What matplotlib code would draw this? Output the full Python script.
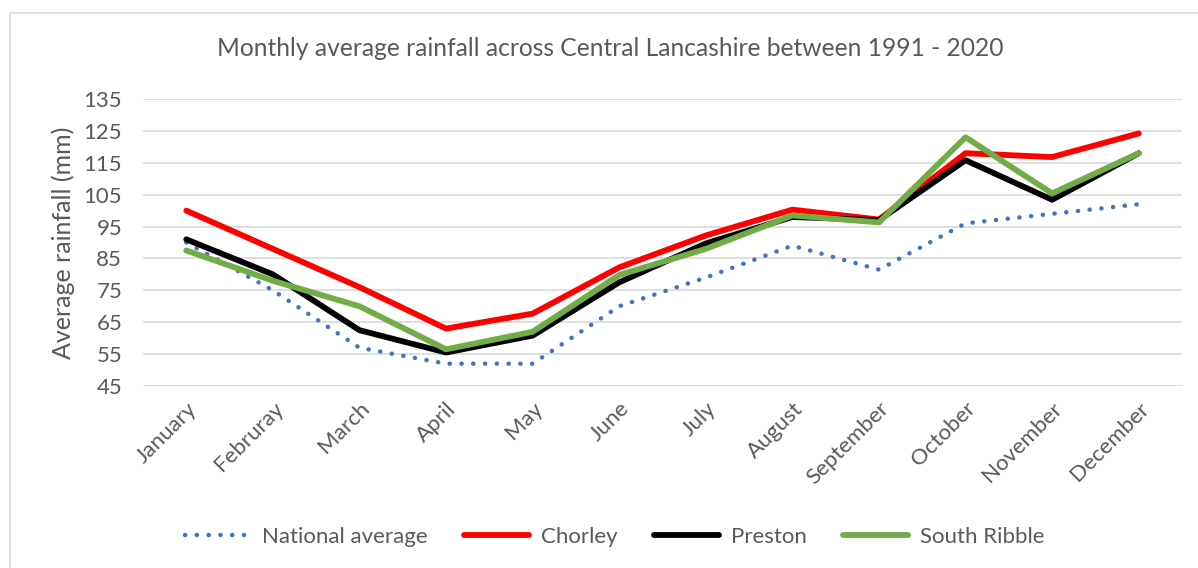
import matplotlib
matplotlib.use("Agg")
import matplotlib.pyplot as plt
from matplotlib.patches import Rectangle

months = ["January", "Februray", "March", "April", "May", "June", "July",
          "August", "September", "October", "November", "December"]
national = [90, 75, 57, 52, 52, 70, 79, 89, 81.5, 96, 99, 102]
chorley = [100, 88, 76, 63, 67.7, 82.2, 92.2, 100.3, 97.2, 118, 116.8, 124.2]
preston = [91, 80, 62.5, 55.5, 60.8, 77.5, 89.7, 98, 97, 115.8, 103.4, 118]
south_ribble = [87.5, 78, 70, 56.5, 62, 79.8, 88, 98.5, 96.3, 123, 105.4, 118]

series_names = ["National average", "Chorley", "Preston", "South Ribble"]
yticks = [45, 55, 65, 75, 85, 95, 105, 115, 125, 135]

plt.rcParams['font.family'] = ['Lato', 'DejaVu Sans']
txt = '#595959'

W, H = 1198, 568
fig = plt.figure(figsize=(W / 100, H / 100), dpi=100)
fig.patch.set_facecolor('white')
fig.patches.append(Rectangle((10 / W, -0.1), 1.2, 1 - 13 / H + 0.1,
                             transform=fig.transFigure, fill=False,
                             edgecolor='#d9d9d9', linewidth=1.2))

ax = fig.add_axes([143 / W, 1 - 386 / H, (1182 - 143) / W, (386 - 99) / H])
x = list(range(len(months)))

ax.plot(x, national, color='#4472C4', linewidth=3.2, linestyle=(0, (0.05, 2.6)),
        dash_capstyle='round', label=series_names[0])
ax.plot(x, chorley, color='#FF0000', linewidth=4.2, solid_capstyle='round',
        solid_joinstyle='round', label=series_names[1])
ax.plot(x, preston, color='#000000', linewidth=4.2, solid_capstyle='round',
        solid_joinstyle='round', label=series_names[2])
ax.plot(x, south_ribble, color='#70AD47', linewidth=4.2, solid_capstyle='round',
        solid_joinstyle='round', label=series_names[3])

ax.set_xlim(-0.5, len(months) - 0.5)
ax.set_ylim(45, 135)
ax.set_yticks(yticks)
ax.set_yticklabels([str(v) for v in yticks], fontsize=16, color=txt)
ax.set_xticks(x)
ax.set_xticklabels(months, rotation=45, ha='right', rotation_mode='anchor',
                   fontsize=16, color=txt)
ax.tick_params(axis='both', length=0)
ax.tick_params(axis='y', pad=15)
ax.tick_params(axis='x', pad=9)
ax.grid(axis='y', color='#d9d9d9', linewidth=1.2)
ax.set_axisbelow(True)
for s in ax.spines.values():
    s.set_visible(False)

ax.set_ylabel("Average rainfall (mm)", fontsize=18, color=txt)
ax.yaxis.set_label_coords(-68 / (1182 - 143), 0.5)

fig.text(610 / W, 1 - 48 / H, "Monthly average rainfall across Central Lancashire between 1991 - 2020",
         ha='center', va='center', fontsize=17.7, color=txt)

handles, labels = ax.get_legend_handles_labels()
leg = fig.legend(handles, labels, loc='center', bbox_to_anchor=(615 / W, 1 - 537 / H),
                 ncol=4, frameon=False, fontsize=16, handlelength=2.9,
                 columnspacing=1.65, handletextpad=0.55)
for t in leg.get_texts():
    t.set_color(txt)

fig.savefig("out.png", dpi=100)
